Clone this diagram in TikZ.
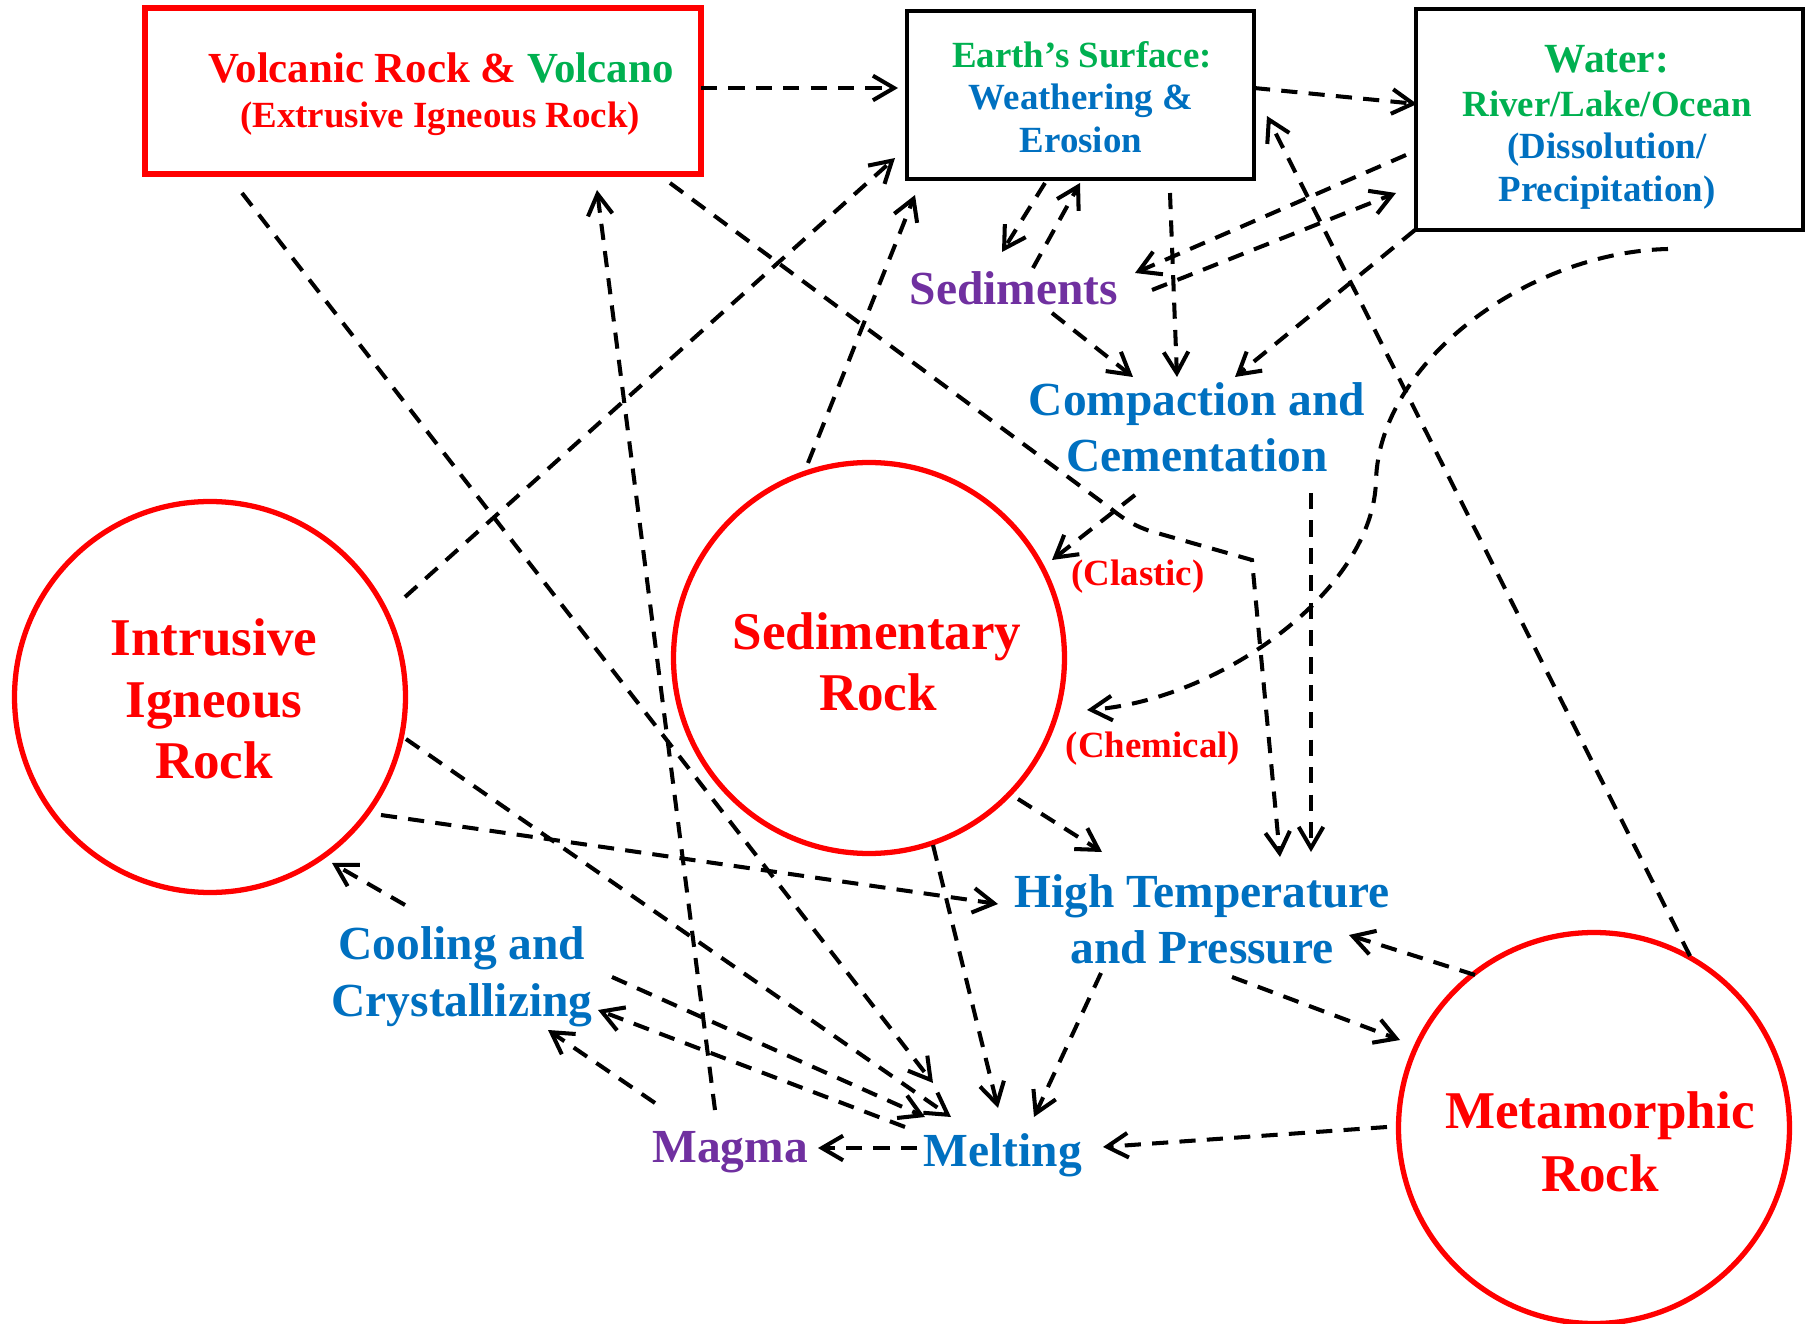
\documentclass[tikz,border=0pt]{standalone}
\usepackage{fontspec}
\setmainfont{Liberation Serif}
\usetikzlibrary{arrows.meta}
\definecolor{cred}{RGB}{255,0,0}
\definecolor{cgreen}{RGB}{0,176,80}
\definecolor{cblue}{RGB}{0,112,192}
\definecolor{cpurple}{RGB}{112,48,160}
\begin{document}
\begin{tikzpicture}[x=0.1mm,y=-0.1mm,
  conn/.style={draw=black, line width=1.15pt, dash pattern=on 4.6pt off 3.2pt,
    -{Straight Barb[length=6pt,width=7pt]}},
  txt/.style={inner sep=0pt, anchor=base, font=\bfseries},
  big/.style={txt, font=\bfseries\fontsize{15.1}{18}\selectfont, text=cred},
  proc/.style={txt, font=\bfseries\fontsize{13.5}{16}\selectfont, text=cblue},
  small/.style={txt, font=\bfseries\fontsize{10.5}{12}\selectfont},
  mid/.style={txt, font=\bfseries\fontsize{12.2}{14}\selectfont},
  rockc/.style={circle, draw=cred, line width=1.5pt, minimum size=39.1mm, inner sep=0pt},
]
\useasboundingbox (0,0) rectangle (1810,1324);

% boxes
\node[draw=cred, line width=1.6pt, minimum width=55.6mm, minimum height=16.6mm, inner sep=0pt] (volc) at (423,91) {};
\node[draw=black, line width=0.9pt, minimum width=34.7mm, minimum height=16.8mm, inner sep=0pt] (earth) at (1080.5,95) {};
\node[draw=black, line width=0.9pt, minimum width=38.7mm, minimum height=22.1mm, inner sep=0pt] (water) at (1609.5,119.5) {};

% circles
\node[rockc] (intr) at (210,697) {};
\node[rockc] (sedr) at (869,658) {};
\node[rockc] (meta) at (1594,1128) {};

% texts
\node[mid] (volcA) at (441,83) {\textcolor{cred}{Volcanic Rock \&} \textcolor{cgreen}{Volcano}};
\node[small, text=cred] (volcB) at (440,128) {(Extrusive Igneous Rock)};
\node[small, text=cgreen] (earthA) at (1082,68) {Earth’s Surface:};
\node[small, text=cblue] (earthB) at (1081,110) {Weathering \&};
\node[small, text=cblue] (earthC) at (1081,153) {Erosion};
\node[txt, font=\bfseries\fontsize{11.8}{14}\selectfont, text=cgreen] (waterA) at (1607,73) {Water:};
\node[small, text=cgreen] (waterB) at (1607,117) {River/Lake/Ocean};
\node[small, text=cblue] (waterC) at (1607,159) {(Dissolution/};
\node[small, text=cblue] (waterD) at (1607,202) {Precipitation)};
\node[proc, text=cpurple] (sedi) at (1014,305) {Sediments};
\node[proc] (compA) at (1197,416) {Compaction and};
\node[proc] (compB) at (1197,472) {Cementation};
\node[small, text=cred] (clastic) at (1138,585) {(Clastic)};
\node[small, text=cred] (chem) at (1153,757) {(Chemical)};
\node[proc] (htA) at (1202,907) {High Temperature};
\node[proc] (htB) at (1202,963) {and Pressure};
\node[proc] (coolA) at (462,959) {Cooling and};
\node[proc] (coolB) at (462,1016) {Crystallizing};
\node[proc, text=cpurple] (magma) at (730,1162) {Magma};
\node[proc] (melt) at (1003,1166) {Melting};
\node[big] (intrA) at (214,655) {Intrusive};
\node[big] (intrB) at (214,718) {Igneous};
\node[big] (intrC) at (214,778) {Rock};
\node[big] (sedrA) at (877,649) {Sedimentary};
\node[big] (sedrB) at (878,710) {Rock};
\node[big] (metaA) at (1600,1128) {Metamorphic};
\node[big] (metaB) at (1600,1191) {Rock};

% connector end points
\coordinate (p1a) at (701,88);   \coordinate (p1b) at (898,88);
\coordinate (p2a) at (1254,88);  \coordinate (p2b) at (1417,104);
\coordinate (p3a) at (1406,155); \coordinate (p3b) at (1135,273);
\coordinate (p4a) at (1152,290); \coordinate (p4b) at (1396,193);
\coordinate (p5a) at (1045,183); \coordinate (p5b) at (1002,252);
\coordinate (p6a) at (1033,268); \coordinate (p6b) at (1080,183);
\coordinate (p7a) at (1170,193); \coordinate (p7b) at (1177,377);
\coordinate (p8a) at (1052,313); \coordinate (p8b) at (1133,377);
\coordinate (p9a) at (1415,230); \coordinate (p9b) at (1235,377);
\coordinate (p10a) at (1135,495); \coordinate (p10b) at (1052,560);
\coordinate (p11a) at (1668,249); \coordinate (p11m) at (1376,480); \coordinate (p11b) at (1087,710);
\coordinate (p12a) at (670,183); \coordinate (p12m) at (1252,560); \coordinate (p12b) at (1280,857);
\coordinate (p13a) at (1311,493); \coordinate (p13b) at (1311,852);
\coordinate (p14a) at (1018,799); \coordinate (p14b) at (1102,852);
\coordinate (p15a) at (381,815); \coordinate (p15b) at (998,904);
\coordinate (p16a) at (405,597); \coordinate (p16b) at (895,158);
\coordinate (p17a) at (808,463); \coordinate (p17b) at (915,195);
\coordinate (p18a) at (1690,956); \coordinate (p18b) at (1267,116);
\coordinate (p19a) at (715,1110); \coordinate (p19b) at (597,190);
\coordinate (p20a) at (242,193); \coordinate (p20b) at (933,1083);
\coordinate (p21a) at (406,739); \coordinate (p21b) at (951,1117);
\coordinate (p22a) at (612,977); \coordinate (p22b) at (925,1117);
\coordinate (p23a) at (905,1127); \coordinate (p23b) at (598,1010);
\coordinate (p24a) at (655,1103); \coordinate (p24b) at (548,1030);
\coordinate (p25a) at (405,905); \coordinate (p25b) at (332,863);
\coordinate (p26a) at (933,845); \coordinate (p26b) at (998,1108);
\coordinate (p27a) at (1101,973); \coordinate (p27b) at (1034,1117);
\coordinate (p28a) at (1387,1127); \coordinate (p28b) at (1103,1147);
\coordinate (p29a) at (917,1148); \coordinate (p29b) at (818,1148);
\coordinate (p30a) at (1475,975); \coordinate (p30b) at (1349,935);
\coordinate (p31a) at (1232,977); \coordinate (p31b) at (1400,1040);

% connectors
\draw[conn] (p1a) -- (p1b);
\draw[conn] (p2a) -- (p2b);
\draw[conn] (p3a) -- (p3b);
\draw[conn] (p4a) -- (p4b);
\draw[conn] (p5a) -- (p5b);
\draw[conn] (p6a) -- (p6b);
\draw[conn] (p7a) -- (p7b);
\draw[conn] (p8a) -- (p8b);
\draw[conn] (p9a) -- (p9b);
\draw[conn] (p10a) -- (p10b);
\draw[conn] (p11a) .. controls (1530,252) and (1380,360) .. (p11m) .. controls (1374,590) and (1220,700) .. (p11b);
\draw[conn] (p12a) -- (1110,508) .. controls (1125,520) and (1135,526) .. (1150,531) -- (p12m) -- (p12b);
\draw[conn] (p13a) -- (p13b);
\draw[conn] (p14a) -- (p14b);
\draw[conn] (p15a) -- (p15b);
\draw[conn] (p16a) -- (p16b);
\draw[conn] (p17a) -- (p17b);
\draw[conn] (p18a) -- (p18b);
\draw[conn] (p19a) -- (p19b);
\draw[conn] (p20a) -- (p20b);
\draw[conn] (p21a) -- (p21b);
\draw[conn] (p22a) -- (p22b);
\draw[conn] (p23a) -- (p23b);
\draw[conn] (p24a) -- (p24b);
\draw[conn] (p25a) -- (p25b);
\draw[conn] (p26a) -- (p26b);
\draw[conn] (p27a) -- (p27b);
\draw[conn] (p28a) -- (p28b);
\draw[conn] (p29a) -- (p29b);
\draw[conn] (p30a) -- (p30b);
\draw[conn] (p31a) -- (p31b);
\end{tikzpicture}
\end{document}
